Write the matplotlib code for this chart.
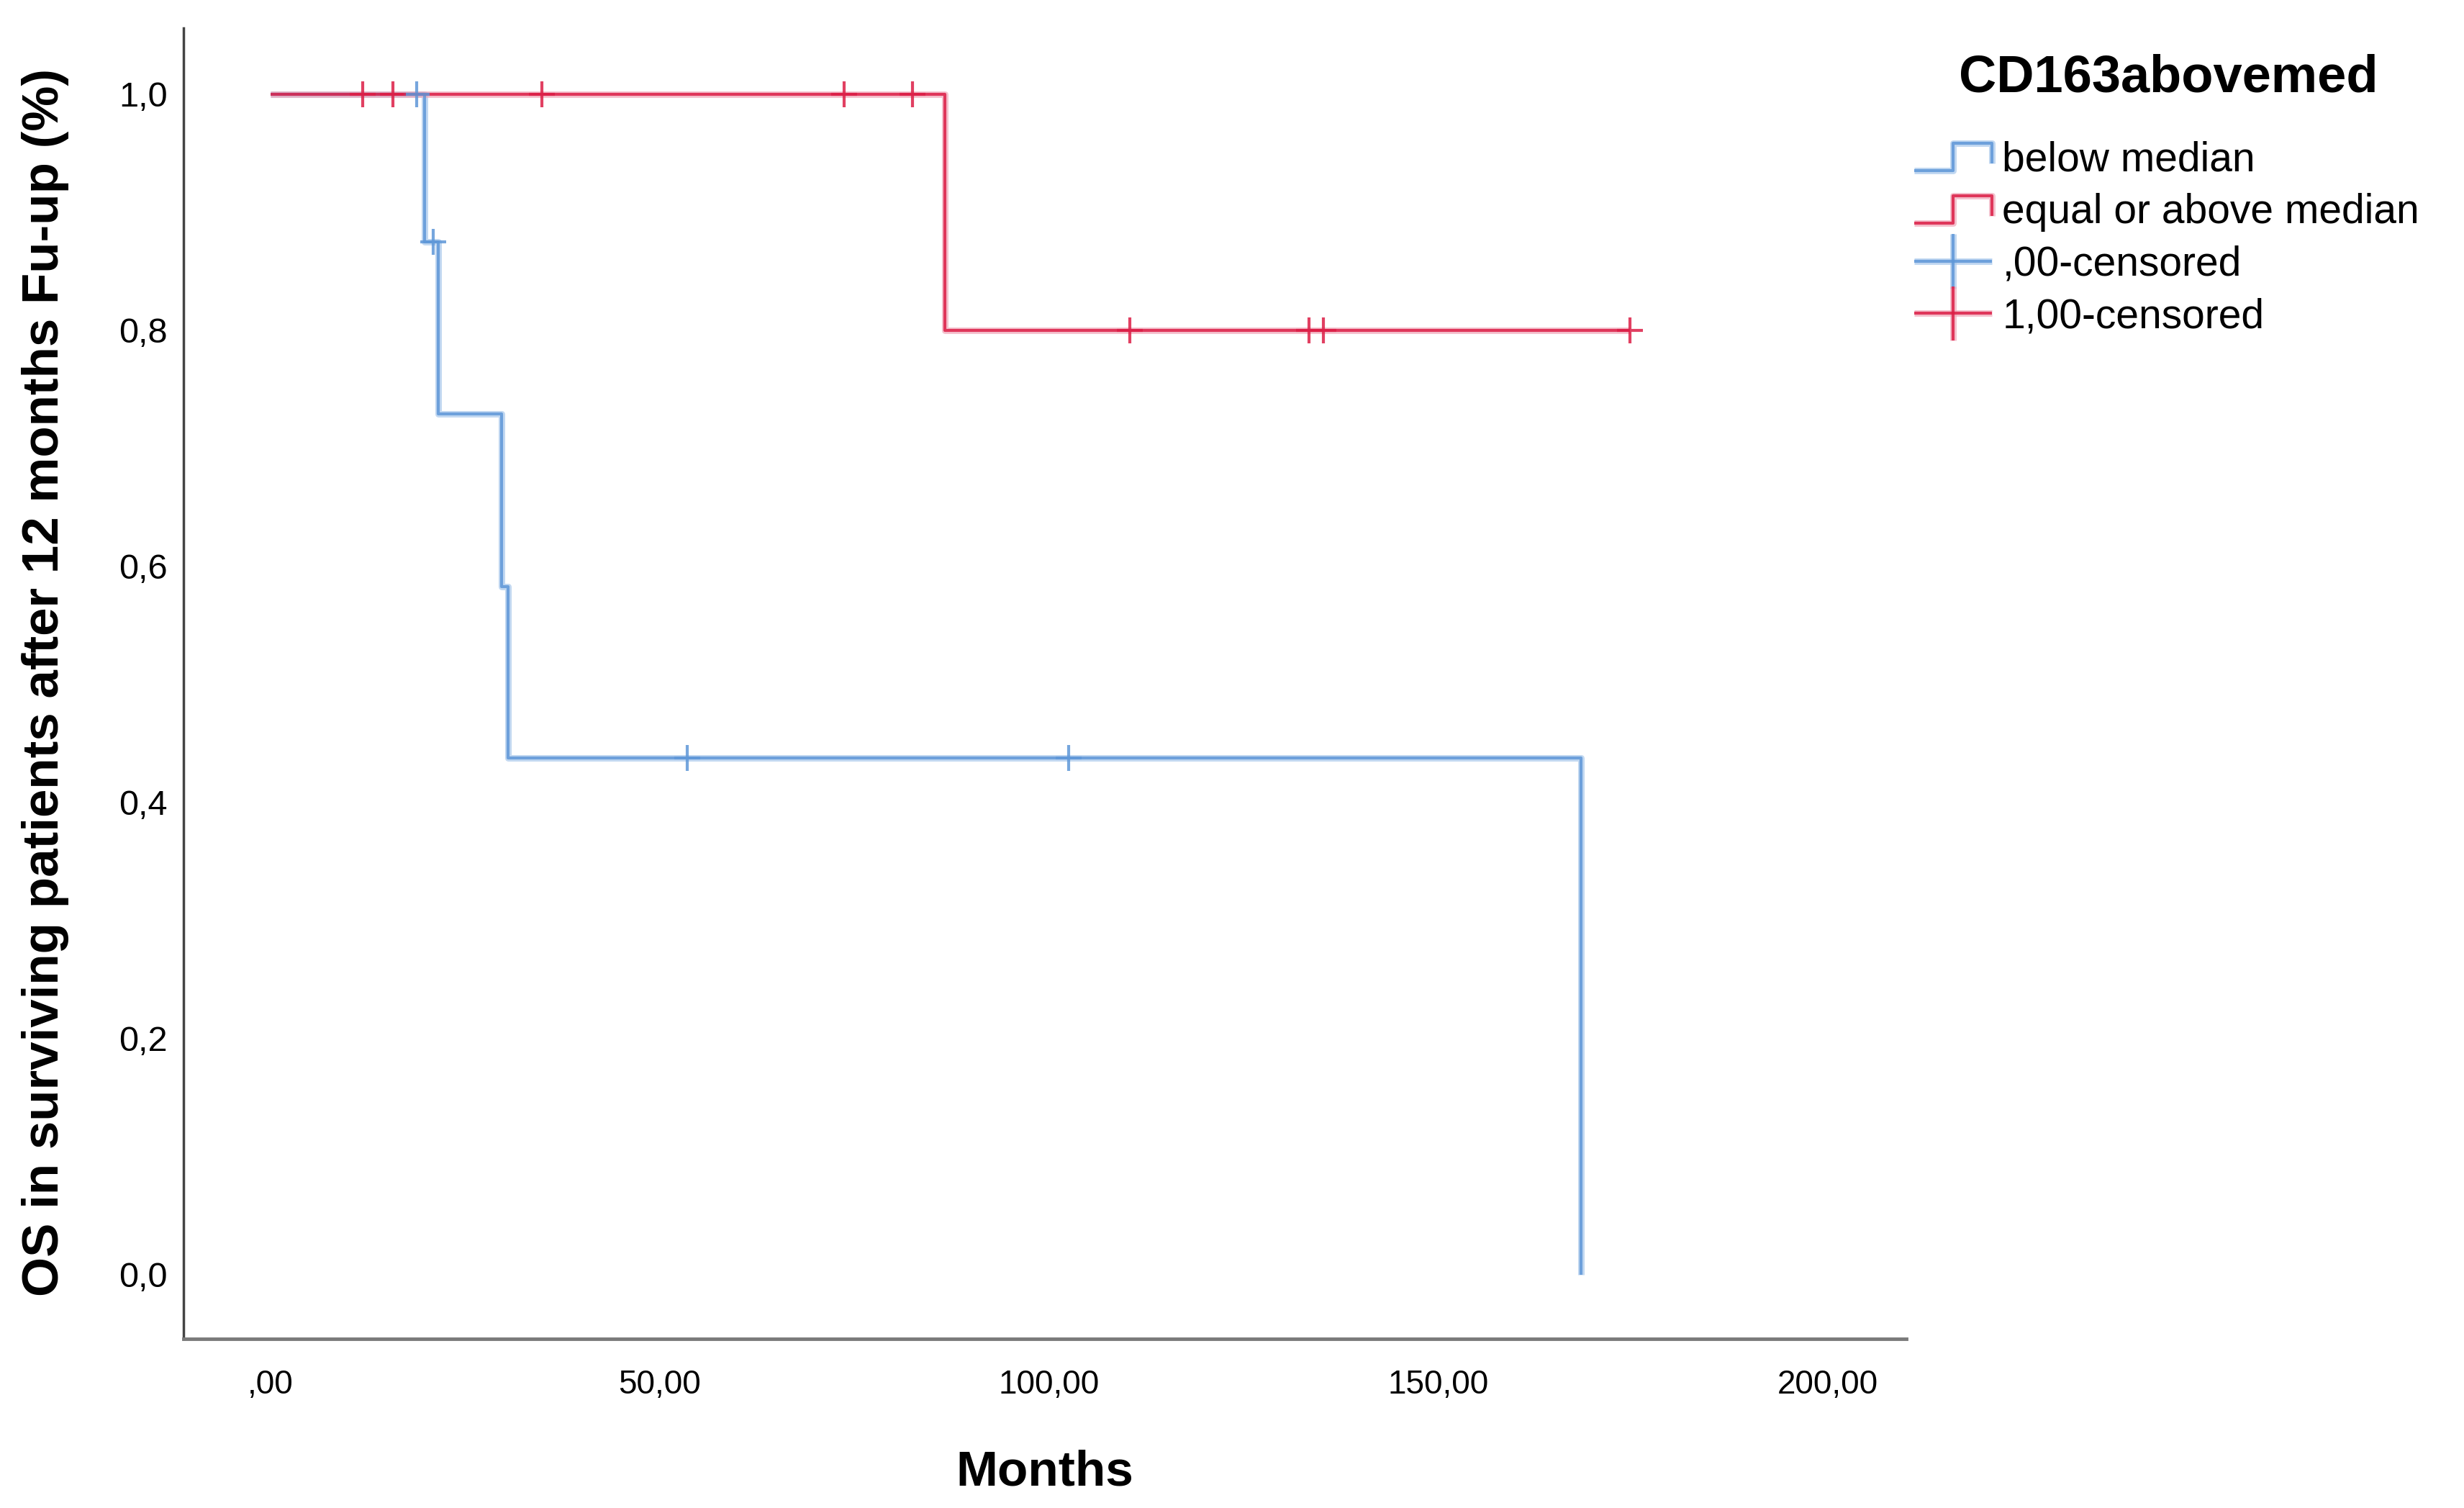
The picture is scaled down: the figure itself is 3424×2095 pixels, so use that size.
import matplotlib
matplotlib.use('Agg')
import matplotlib.pyplot as plt
from matplotlib.lines import Line2D
from matplotlib.legend_handler import HandlerBase
import numpy as np

plt.rcParams['font.family'] = ['Liberation Sans', 'DejaVu Sans']

# ---------------- data ----------------
below_step_times = [0.0, 19.8, 21.6, 29.7, 30.5, 168.3]
below_step_surv = [1.0, 0.875, 0.729, 0.583, 0.4375, 0.0]
below_end = 168.3
below_censor_times = [18.8, 20.9, 53.5, 102.5]

above_step_times = [0.0, 86.6]
above_step_surv = [1.0, 0.8]
above_end = 174.6
above_censor_times = [11.9, 15.7, 34.9, 73.7, 82.5, 110.4, 133.4, 135.2, 174.6]

group_labels = ['below median', 'equal or above median']
censor_labels = [',00-censored', '1,00-censored']
legend_title = 'CD163abovemed'
x_label = 'Months'
y_label = 'OS in surviving patients after 12 months Fu-up (%)'
x_ticks = [0, 50, 100, 150, 200]
x_tick_labels = [',00', '50,00', '100,00', '150,00', '200,00']
y_ticks = [0.0, 0.2, 0.4, 0.6, 0.8, 1.0]
y_tick_labels = ['0,0', '0,2', '0,4', '0,6', '0,8', '1,0']

# ---------------- styles ----------------
BLUE = '#5E97D8'
BLUE_LIGHT = '#A9C8EC'
RED = '#DC1E46'
RED_LIGHT = '#F0A9BA'
LW_LIGHT = 6.5
LW_CORE = 3.0

fig = plt.figure(figsize=(34.24, 20.95), dpi=100)
ax = fig.add_axes([255/3424, 1-1860/2095, (2649-255)/3424, (1860-39)/2095])


def draw_group(times, surv, end, ctimes, col, col_light):
    xs = list(times) + [end]
    ys = list(surv) + [surv[-1]]
    ax.plot(xs, ys, drawstyle='steps-post', color=col_light, lw=LW_LIGHT, alpha=0.7,
            solid_capstyle='butt', zorder=2)
    ax.plot(xs, ys, drawstyle='steps-post', color=col, lw=LW_CORE, alpha=0.85,
            solid_capstyle='butt', zorder=3)
    t = np.asarray(times)
    idx = np.searchsorted(t, np.asarray(ctimes), side='right') - 1
    cy = np.asarray(surv)[idx]
    ax.plot(ctimes, cy, linestyle='none', marker='+', markersize=26, mew=3,
            color=col, alpha=0.85, zorder=4)


draw_group(below_step_times, below_step_surv, below_end, below_censor_times, BLUE, BLUE_LIGHT)
draw_group(above_step_times, above_step_surv, above_end, above_censor_times, RED, RED_LIGHT)

ax.set_xlim(-11.15, 210.1)
ax.set_ylim(-0.0543, 1.056)
ax.set_xticks(x_ticks)
ax.set_xticklabels(x_tick_labels)
ax.set_yticks(y_ticks)
ax.set_yticklabels(y_tick_labels)
ax.tick_params(axis='both', length=0, labelsize=33, colors='black')
ax.tick_params(axis='y', labelsize=35)
ax.tick_params(axis='x', pad=30)
ax.tick_params(axis='y', pad=16)
for s in ['top', 'right']:
    ax.spines[s].set_visible(False)
ax.spines['left'].set_color('#444444')
ax.spines['left'].set_linewidth(2.5)
ax.spines['bottom'].set_color('#7a7a7a')
ax.spines['bottom'].set_linewidth(3.5)

fig.text(63/3424, 1-948/2095, y_label, rotation=90, ha='center', va='center',
         fontsize=51, fontweight='bold')
fig.text(1452/3424, 1-2046/2095, x_label, ha='center', va='center',
         fontsize=50, fontweight='bold')


# ---------------- legend ----------------
class StepHandler(HandlerBase):
    def create_artists(self, legend, orig_handle, xdescent, ydescent, width, height, fontsize, trans):
        x0, y0 = -xdescent, -ydescent
        col, light = orig_handle
        xs = [x0, x0 + width*0.5, x0 + width*0.5, x0 + width, x0 + width]
        ys = [y0, y0, y0 + height*0.95, y0 + height*0.95, y0 + height*0.25]
        l1 = Line2D(xs, ys, color=light, lw=LW_LIGHT, alpha=0.7, solid_capstyle='butt')
        l2 = Line2D(xs, ys, color=col, lw=LW_CORE, alpha=0.85, solid_capstyle='butt')
        for l in (l1, l2):
            l.set_transform(trans)
        return [l1, l2]


class PlusHandler(HandlerBase):
    def create_artists(self, legend, orig_handle, xdescent, ydescent, width, height, fontsize, trans):
        x0, y0 = -xdescent, -ydescent
        col, light = orig_handle
        ym = y0 + height*0.5
        xm = x0 + width*0.5
        arts = []
        for c, lw, a in ((light, LW_LIGHT, 0.7), (col, LW_CORE, 0.85)):
            h = Line2D([x0, x0 + width], [ym, ym], color=c, lw=lw, alpha=a, solid_capstyle='butt')
            v = Line2D([xm, xm], [ym - height*0.95, ym + height*0.95], color=c, lw=lw, alpha=a,
                       solid_capstyle='butt')
            h.set_transform(trans)
            v.set_transform(trans)
            arts += [h, v]
        return arts


class StepKey(tuple):
    pass


class PlusKey(tuple):
    pass


handles = [StepKey((BLUE, BLUE_LIGHT)), StepKey((RED, RED_LIGHT)),
           PlusKey((BLUE, BLUE_LIGHT)), PlusKey((RED, RED_LIGHT))]
labels = group_labels + censor_labels
fig.legend(handles, labels, loc='upper left', bbox_to_anchor=(2660/3424, 1-195/2095),
           frameon=False, fontsize=41, borderpad=0, borderaxespad=0,
           handlelength=1.9, handletextpad=0.25, labelspacing=0.33,
           handler_map={StepKey: StepHandler(), PlusKey: PlusHandler()})
fig.text(3013/3424, 1-108/2095, legend_title, ha='center', va='center',
         fontsize=52, fontweight='bold')

fig.savefig('out.png', dpi=100, facecolor='white')
